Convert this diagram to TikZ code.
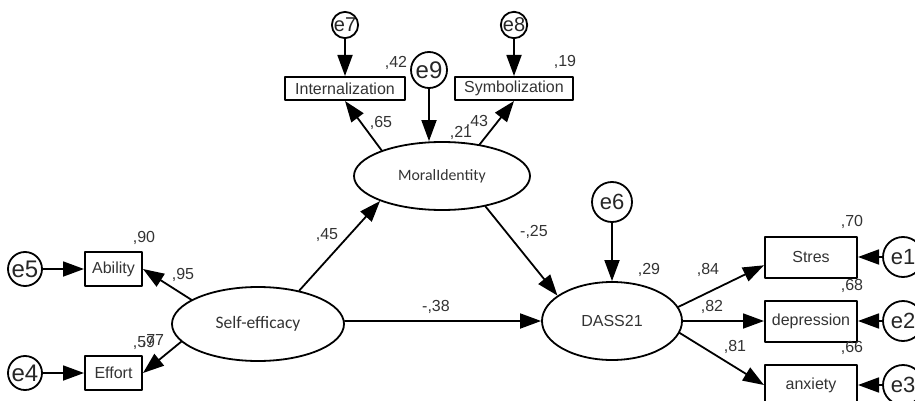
\documentclass[tikz,border=0pt]{standalone}
\usepackage{fontspec}
\setmainfont{Liberation Sans}
\newfontfamily\calib{Carlito}
\usetikzlibrary{arrows.meta,shapes.geometric}

\begin{document}
\begin{tikzpicture}[x=0.5pt,y=-0.5pt,line cap=round,line join=round,
  >={Triangle[length=10.5pt,width=7.5pt]},
  obs/.style={draw,line width=1pt,rectangle,inner sep=0pt,text=black!80,font=\fontsize{8}{9}\selectfont},
  lat/.style={draw,line width=0.9pt,ellipse,inner sep=0pt,text=black!80,font=\calib\fontsize{8.5}{10}\selectfont},
  err/.style={draw,line width=0.9pt,circle,inner sep=0pt,text=black!85,font=\fontsize{11}{12}\selectfont},
  coef/.style={inner sep=0pt,text=black!80,font=\fontsize{8}{9}\selectfont},
  link/.style={->,line width=0.9pt}]
\clip (0,0) rectangle (915,401);

% latent variables
\node[lat,minimum width=86pt,minimum height=37pt,font=\calib\fontsize{8.75}{10}\selectfont] (selfeff) at (258,324) {Self-efficacy};
\node[lat,minimum width=88pt,minimum height=34pt,font=\calib\fontsize{7.9}{9}\selectfont] (moral) at (442,176) {MoralIdentity};
\node[lat,minimum width=70pt,minimum height=39pt,font=\fontsize{8}{9}\selectfont] (dass) at (612,321) {DASS21};

% observed variables
\node[obs,minimum width=28.5pt,minimum height=17pt] (ability) at (113.5,269) {Ability};
\node[obs,minimum width=28.5pt,minimum height=17pt] (effort) at (113.5,373) {Effort};
\node[obs,minimum width=60pt,minimum height=11.5pt] (intern) at (345,88.5) {Internalization};
\node[obs,minimum width=59pt,minimum height=11.5pt] (symb) at (514,88.5) {Symbolization};
\node[obs,minimum width=46pt,minimum height=20.5pt] (stres) at (811,257) {Stres};
\node[obs,minimum width=46pt,minimum height=20.5pt] (depr) at (811,321) {depression};
\node[obs,minimum width=46pt,minimum height=20.5pt] (anx) at (811,385) {anxiety};

% error terms
\node[err,minimum size=17pt,font=\fontsize{12}{13}\selectfont] (e5) at (25,269) {e5};
\node[err,minimum size=17pt,font=\fontsize{12}{13}\selectfont] (e4) at (25,373) {e4};
\node[err,minimum size=13pt,font=\fontsize{10}{11}\selectfont] (e7) at (345,25) {e7};
\node[err,minimum size=13pt,font=\fontsize{10}{11}\selectfont] (e8) at (514,25) {e8};
\node[err,minimum size=18pt,font=\fontsize{12}{13}\selectfont] (e9) at (429,70) {e9};
\node[err,minimum size=20pt] (e6) at (612,202) {e6};
\node[err,minimum size=20pt] (e1) at (903,257) {e1};
\node[err,minimum size=20pt] (e2) at (903,321) {e2};
\node[err,minimum size=20pt] (e3) at (903,385) {e3};

% paths
\draw[link] (e5) -- (ability);
\draw[link] (e4) -- (effort);
\draw[link] (selfeff.160) -- (ability.east);
\draw[link] (selfeff.193) -- (effort.east);
\draw[link] (selfeff.39) -- (moral.202);
\draw[link] (selfeff.east |- dass.west) -- (dass.west);
\draw[link] (moral.-35) -- (dass.155);
\draw[link] (moral.157) -- (intern.south);
\draw[link] (moral.40) -- (symb.south);
\draw[link] (e7) -- (intern);
\draw[link] (e8) -- (symb);
\draw[link] (e9) -- (e9 |- moral.north);
\draw[link] (e6) -- (dass);
\draw[link] (dass.12) -- (stres.190);
\draw[link] (dass.east) -- (depr.west);
\draw[link] (dass.-10) -- (anx.west);
\draw[link] (e1) -- (stres);
\draw[link] (e2) -- (depr);
\draw[link] (e3) -- (anx);

% estimates
\node[coef] (c90) at (144,238) {,90};
\node[coef] (c95) at (183,275) {,95};
\node[coef] (c59) at (144,343) {,59};
\node[coef] (c77) at (153,341) {,77};
\node[coef] (c42) at (396,63) {,42};
\node[coef] (c19) at (565,62) {,19};
\node[coef] (c65) at (381,123) {,65};
\node[coef] (c43) at (477,122) {,43};
\node[coef,fill=white,inner sep=0.3pt] (c21) at (461,133) {,21};
\node[coef] (c45) at (327,235) {,45};
\node[coef] (c25) at (534,232) {-,25};
\node[coef] (c38) at (436,307) {-,38};
\node[coef] (c29) at (649,270) {,29};
\node[coef] (c84) at (708,270) {,84};
\node[coef] (c82) at (712,307) {,82};
\node[coef] (c81) at (735,347) {,81};
\node[coef] (c70) at (852,222) {,70};
\node[coef] (c68) at (852,286) {,68};
\node[coef] (c66) at (852,348) {,66};
\end{tikzpicture}
\end{document}
